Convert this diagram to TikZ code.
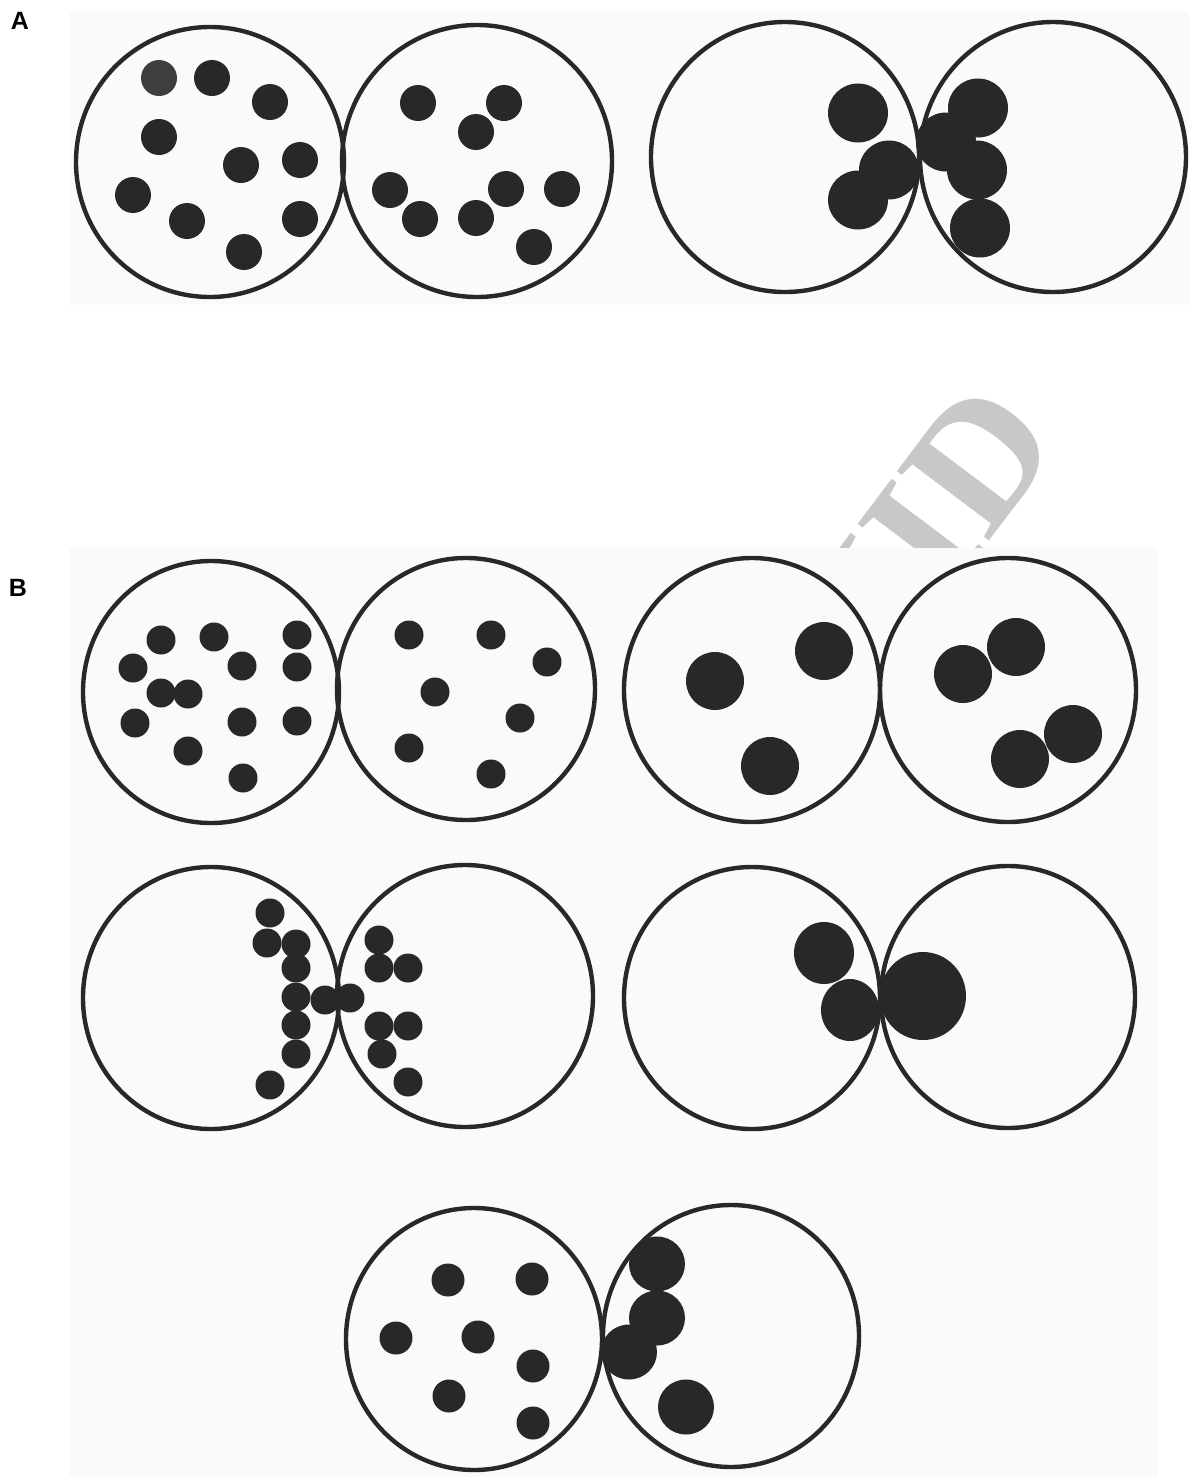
\documentclass[tikz,border=0pt]{standalone}
\usepackage{fontspec}
\newfontfamily\rotulo{Liberation Sans}
\newfontfamily\marca{Liberation Serif}
\definecolor{tinta}{RGB}{40,40,40}
\definecolor{tintac}{RGB}{62,62,62}
\definecolor{fondo}{RGB}{250,250,250}
\definecolor{grism}{RGB}{200,200,200}
\tikzset{
  celula/.style={draw=tinta, line width=2.2pt},
  gota/.style={fill=tinta, draw=none},
  panel/.style={fill=fondo, draw=none},
  letra/.style={font=\rotulo\bfseries\fontsize{12.5}{15}\selectfont, inner sep=0pt, text=black},
  sello/.style={font=\marca\bfseries\fontsize{88}{88}\selectfont, text=grism, inner sep=0pt},
}

\begin{document}
\begin{tikzpicture}[x=0.5pt, y=-0.5pt]
  \useasboundingbox (0,0) rectangle (1189,1480);
  \node[sello, rotate=53, anchor=base east] (sello) at (1064,442) {UID};
  \fill[panel] (69,11) rectangle (1189,305);
  \fill[panel] (69,548) rectangle (1158,1477);
  \node[letra] (etiqA) at (20,21) {A};
  \node[letra] (etiqB) at (18,588) {B};

  % A: celulas
  \draw[celula] (210,162) ellipse [x radius=134, y radius=135];
  \draw[celula] (477,161) ellipse [x radius=135, y radius=136];
  \draw[celula] (785,157) ellipse [x radius=134, y radius=135];
  \draw[celula] (1053,157) ellipse [x radius=133, y radius=135];
  \fill[tintac] (159,78) circle (18);
  \foreach \p in {(212,78),(270,102),(159,137),(241,165),(300,160),(133,195),(187,221),(300,219),(244,252),
                  (418,103),(504,103),(476,132),(390,190),(506,189),(562,189),(420,219),(476,218),(534,247)}
    \fill[gota] \p circle (18);
  \foreach \p in {(858,113),(889,170),(858,200),(978,108),(946,142),(977,170),(980,228)}
    \fill[gota] \p ellipse [x radius=30, y radius=29.5];

  % B: celulas
  \draw[celula] (211,692) ellipse [x radius=128, y radius=131];
  \draw[celula] (466,689) ellipse [x radius=129, y radius=131];
  \draw[celula] (752,690) ellipse [x radius=128, y radius=132];
  \draw[celula] (1008,690) ellipse [x radius=128, y radius=132];
  \draw[celula] (211,998) ellipse [x radius=128, y radius=131];
  \draw[celula] (465,996) ellipse [x radius=128, y radius=131];
  \draw[celula] (752,998) ellipse [x radius=128, y radius=131];
  \draw[celula] (1008,997) ellipse [x radius=127, y radius=131];
  \draw[celula] (474,1339) ellipse [x radius=128, y radius=131];
  \draw[celula] (731,1336) ellipse [x radius=128, y radius=131];
  \foreach \p in {(161,640),(214,637),(297,635),(133,668),(242,666),(297,667),(161,693),(188,694),(135,723),
                  (242,722),(297,721),(188,751),(243,778),
                  (409,635),(491,635),(547,662),(435,692),(520,718),(409,748),(491,774),
                  (270,913),(267,943),(296,944),(296,968),(296,997),(325,1000),(296,1025),(296,1054),(270,1085),
                  (350,998),(379,940),(379,968),(408,968),(379,1026),(408,1026),(382,1054),(408,1082)}
    \fill[gota] \p ellipse [x radius=14.5, y radius=14.5];
  \foreach \p in {(715,681),(824,651),(770,766),(963,674),(1016,647),(1073,734),(1020,759)}
    \fill[gota] \p ellipse [x radius=29, y radius=29];
  \fill[gota] (824,953) ellipse [x radius=30, y radius=31];
  \fill[gota] (850,1010) ellipse [x radius=29, y radius=31];
  \fill[gota] (923,996) ellipse [x radius=43, y radius=44];
  \foreach \p in {(448,1280),(532,1279),(396,1338),(478,1337),(533,1366),(449,1396),(533,1423)}
    \fill[gota] \p ellipse [x radius=16.5, y radius=16.5];
  \foreach \p in {(657,1264),(657,1318),(629,1352),(686,1407)}
    \fill[gota] \p ellipse [x radius=28, y radius=27.5];
\end{tikzpicture}
\end{document}
